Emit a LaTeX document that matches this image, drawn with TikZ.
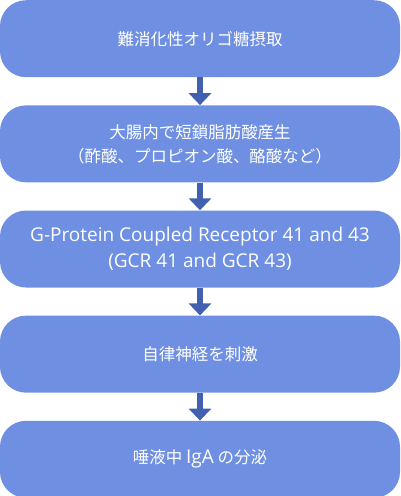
\documentclass[tikz,border=0pt]{standalone}
\usepackage{fontspec}
\setmainfont{Noto Sans CJK JP}
\newfontfamily\latinfont{Open Sans}
\usepackage{tikz}
\usetikzlibrary{arrows.meta, positioning}
\definecolor{boxblue}{RGB}{111,144,226}
\definecolor{arrowblue}{RGB}{65,97,176}

\begin{document}
\begin{tikzpicture}[
    font=\fontsize{16.5}{24}\selectfont,
    stepbox/.style={
        fill=boxblue,
        draw=none,
        rounded corners=26pt,
        minimum width=400pt,
        minimum height=77pt,
        inner sep=0pt,
        align=center,
        text=white
    },
    flow/.style={
        draw=arrowblue,
        line width=6.5pt,
        -{Triangle[width=22pt,length=12pt]}
    }
]

\useasboundingbox (0,0) rectangle (400pt,-496pt);

% ------------------------------------------------------------
% Boxes, top to bottom
% ------------------------------------------------------------
\node[stepbox, anchor=north] (intake) at (200pt,0) {難消化性オリゴ糖摂取};
\node[stepbox, below=27.75pt of intake] (scfa) {大腸内で短鎖脂肪酸産生\\（酢酸、プロピオン酸、酪酸など）};
\node[stepbox, below=27.75pt of scfa, font=\latinfont\fontsize{19}{26}\selectfont] (gpr) {G-Protein Coupled Receptor 41 and 43\\(GCR 41 and GCR 43)};
\node[stepbox, below=27.75pt of gpr] (nerve) {自律神経を刺激};
\node[stepbox, below=27.75pt of nerve] (iga) {唾液中 {\latinfont\fontsize{19}{24}\selectfont IgA} の分泌};

% arrows
\draw[flow] (intake.south) -- (scfa.north);
\draw[flow] (scfa.south) -- (gpr.north);
\draw[flow] (gpr.south) -- (nerve.north);
\draw[flow] (nerve.south) -- (iga.north);

\end{tikzpicture}
\end{document}
